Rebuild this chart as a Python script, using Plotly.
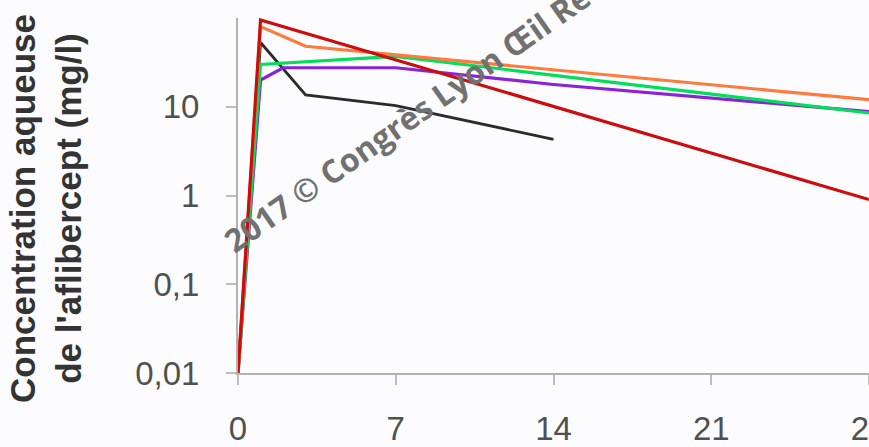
import plotly.graph_objects as go

# Days after injection
days_black = [0, 1, 3, 7, 14]
conc_black = [0.01, 53, 13.6, 10.3, 4.3]

days_purple = [0, 1, 2, 7, 14, 28]
conc_purple = [0.01, 20, 27.5, 27.5, 17.8, 8.8]

days_green = [0, 1, 7, 28]
conc_green = [0.01, 30, 37, 8.5]

days_orange = [0, 1, 3, 28]
conc_orange = [0.01, 80, 48, 12]

days_red = [0, 1, 28]
conc_red = [0.01, 95, 0.9]

x_ticks = [0, 7, 14, 21, 28]
y_ticks = [0.01, 0.1, 1, 10]
y_ticktext = ["0,01", "0,1", "1", "10"]

series = [
    (days_black, conc_black, "#2b2b2b", 2.8),
    (days_purple, conc_purple, "#8a22d6", 3.2),
    (days_green, conc_green, "#00de5a", 3.2),
    (days_orange, conc_orange, "#ff7a3c", 3.2),
    (days_red, conc_red, "#cc0d0d", 3.2),
]

fig = go.Figure()
for xs, ys, color, w in series:
    fig.add_trace(go.Scatter(x=xs, y=ys, mode="lines",
                             line=dict(color=color, width=w),
                             showlegend=False, hoverinfo="skip"))

W, H = 869, 447
ML, MR, MT, MB = 238, 0, 18, 74
BG = "#fcfcfe"
AX = "#b3b3b3"
TICKC = "#bdbdbd"
tick_font = dict(family="Liberation Sans, Arial, sans-serif", size=33, color="#505050")

fig.update_layout(
    width=W, height=H,
    margin=dict(l=ML, r=MR, t=MT, b=MB, pad=0),
    paper_bgcolor=BG, plot_bgcolor=BG,
    xaxis=dict(range=[0, 28], tickvals=x_ticks, ticks="outside", ticklen=10,
               tickwidth=2, tickcolor=TICKC, showline=True, linecolor=AX,
               linewidth=2, showgrid=False, zeroline=False, automargin=False,
               tickfont=tick_font, ticklabelstandoff=15,
               ticklabeloverflow="allow"),
    yaxis=dict(type="log", range=[-2, 2], tickvals=y_ticks,
               ticktext=y_ticktext, ticks="outside", ticklen=10,
               tickwidth=2, tickcolor=TICKC, showline=True, linecolor=AX,
               linewidth=2, showgrid=False, zeroline=False, automargin=False,
               tickfont=tick_font, ticklabelstandoff=20),
)

pw = W - ML - MR
ph = H - MT - MB


def px_to_paper(px, py):
    return (px - ML) / pw, (H - MB - py) / ph


# Axis title (two lines, rotated)
tx, ty = px_to_paper(46, 209)
fig.add_annotation(
    text="<b>Concentration aqueuse<br>de l'aflibercept (mg/l)</b>",
    xref="paper", yref="paper", x=tx, y=ty, xanchor="center", yanchor="middle",
    textangle=-90, showarrow=False,
    font=dict(family="Liberation Sans, Arial, sans-serif", size=35, color="#333333"),
)

# Copyright watermark
wx, wy = px_to_paper(432, 100)
fig.add_annotation(
    text="<b>2017 © Congrès Lyon Œil Rétine</b>",
    xref="paper", yref="paper", x=wx, y=wy, xanchor="center", yanchor="middle",
    textangle=-35, showarrow=False,
    font=dict(family="Open Sans, sans-serif", size=32, color="#717171"),
)

fig.write_html("out.html")
